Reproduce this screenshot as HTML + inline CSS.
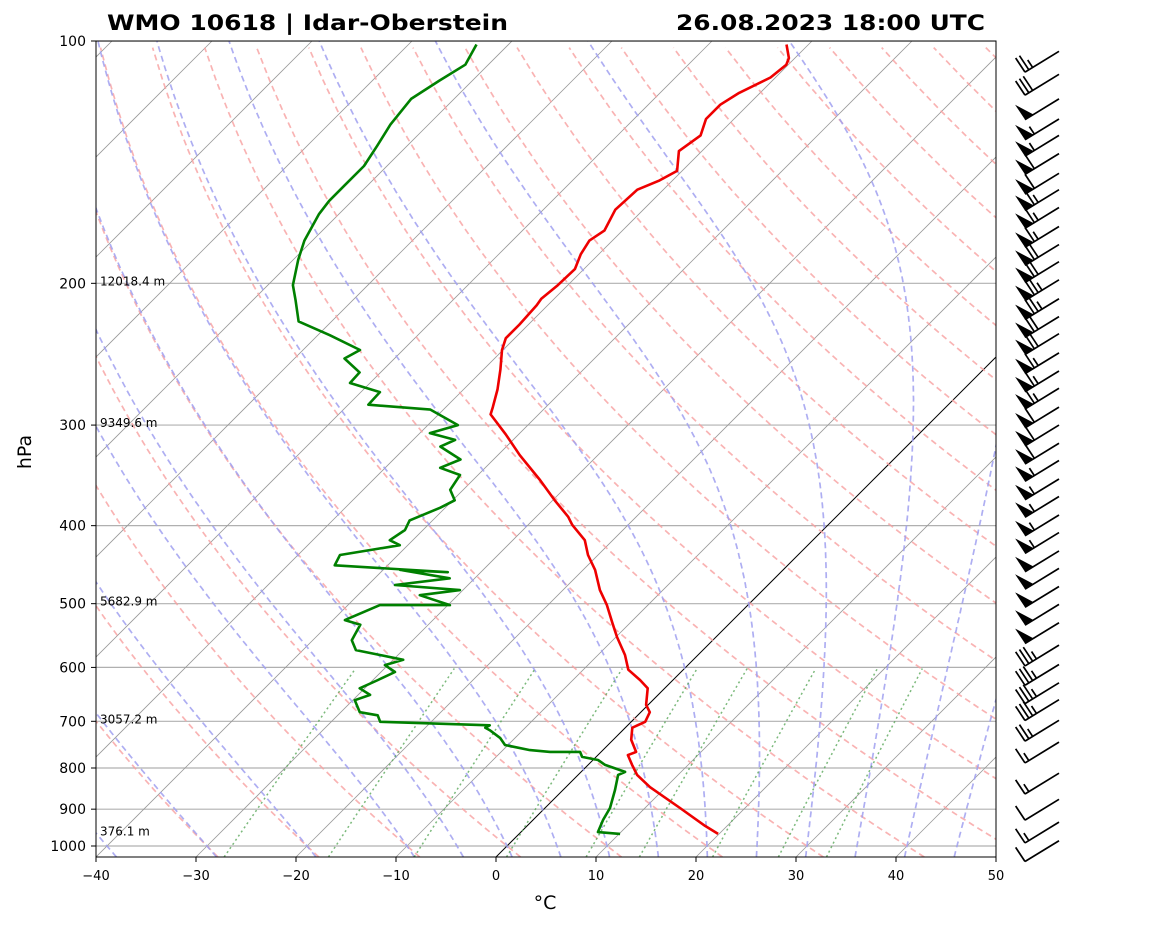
<!DOCTYPE html>
<html><head><meta charset="utf-8"><style>
body{margin:0;background:#fff;}
svg{display:block;font-family:"DejaVu Sans","Liberation Sans",sans-serif;}
</style></head><body>
<svg id="chart" width="1160" height="925" viewBox="0 0 1160 925" xmlns="http://www.w3.org/2000/svg">
<defs><clipPath id="plotclip"><rect x="96" y="41" width="900" height="816"/></clipPath></defs>
<rect x="0" y="0" width="1160" height="925" fill="#fff"/>
<g id="grid" clip-path="url(#plotclip)"></g>
<g id="data" clip-path="url(#plotclip)"></g>
<rect x="96" y="41" width="900" height="816" fill="none" stroke="#000" stroke-width="1"/>
<g id="axes"></g>
<g id="barbs"></g>
<text x="107" y="30" font-size="21" font-weight="bold" textLength="401" lengthAdjust="spacingAndGlyphs">WMO 10618 | Idar-Oberstein</text>
<text x="676" y="30" font-size="21" font-weight="bold" textLength="309" lengthAdjust="spacingAndGlyphs">26.08.2023 18:00 UTC</text>
<text x="545" y="909" font-size="19" text-anchor="middle">°C</text>
<text x="31" y="452" font-size="19" text-anchor="middle" transform="rotate(-90 31 452)">hPa</text>
</svg>
<script>
const tempP=[966,944,897,845,816,793,771,764,738,713,701,682,668,637,622,604,579,550,528,502,481,454,435,417,399,390,372,351,327,308,291,285,271,256,242,234,225,213,209,201,192,184,177,172,162,153,149,145,137,131,125,120,116,111,107,105,101];
const tempT=[19.9,17.8,13.5,8.4,5.9,4.4,3.0,3.5,1.8,0.7,1.4,0.9,-0.2,-1.7,-3.3,-5.5,-7.3,-9.9,-11.8,-14.1,-16.3,-18.8,-21,-22.8,-25.6,-26.8,-29.8,-33.3,-37.8,-41.3,-44.8,-45.3,-46.6,-48.3,-50.1,-50.9,-50.9,-51.1,-51.3,-51,-50.9,-51.8,-52.3,-51.8,-52.8,-52.6,-51.3,-50.5,-52.3,-51.7,-52.8,-52.8,-52.1,-50.5,-50.2,-50.6,-52.2];
const dewP=[966,961,928,897,852,816,809,793,782,775,764,764,760,749,734,718,713,708,701,688,682,659,649,637,622,608,596,587,579,571,555,531,524,502,502,488,481,474,465,454,457,448,435,427,423,417,405,394,380,372,361,346,339,331,319,313,307,300,287,283,273,266,258,248,242,232,223,210,201,187,177,164,158,151,143,135,127,118,112,107,101];
const dewT=[10.1,7.7,7.0,6.5,5.2,4.0,4.4,1.7,0.5,-1.4,-2.1,-5.1,-7.3,-10.3,-11.5,-13.3,-14,-13.8,-25.1,-26,-28.1,-29.8,-28.8,-30.5,-29.5,-28.6,-30.3,-29,-31.8,-34.7,-36.1,-36.8,-38.8,-36.8,-29.8,-33.8,-30.3,-37.3,-32.5,-38.3,-33.3,-45.3,-45.8,-42.5,-40.8,-42.3,-41.8,-42.3,-40.5,-39.8,-41.3,-41.8,-44.5,-43.3,-46.6,-45.8,-49,-47,-51.3,-58,-58.1,-62,-62.1,-65,-64.3,-68.8,-73.3,-75.7,-77.5,-79.5,-80.8,-82,-82.3,-82.3,-82.3,-83,-83.8,-84.3,-83.3,-82.3,-83.2];
const xTicks=[-40,-30,-20,-10,0,10,20,30,40,50];
const yTicks=[100,200,300,400,500,600,700,800,900,1000];
const heightP=[200,300,500,700,965];
const heightLabels=["12018.4 m","9349.6 m","5682.9 m","3057.2 m","376.1 m"];
const dryT0=[-30,-20,-10,0,10,20,30,40,50,60,70,80,90,100,110,120,130,140,150,160,170,180,190,200];
const moistT0=[-50,-40,-30,-20,-10,-5,0,5,10,15,20,25,30,35,40,45];
const mixW=[0.0004,0.001,0.002,0.004,0.007,0.01,0.016,0.024,0.032];
const barbP=[103,110,118,125,131,138,146,153,161,170,179,188,198,209,220,231,244,257,270,285,300,316,332,350,368,388,408,430,452,476,501,528,563,595,627,658,698,743,812,875,934,985];
const barbS=[25,30,50,55,55,60,60,65,65,65,70,70,75,75,70,70,65,65,65,60,60,60,55,55,55,55,55,50,50,50,50,50,35,35,35,35,25,15,15,10,15,10];

const NS="http://www.w3.org/2000/svg";
const PB=1031.9;
function yOf(p){return 41+805*Math.log10(p/100);}
function xOf(T,p){return 96+(T+40)*10+(857-yOf(p));}
function mk(tag,attrs,parent){const e=document.createElementNS(NS,tag);for(const k in attrs)e.setAttribute(k,attrs[k]);parent.appendChild(e);return e;}
function pathFrom(ps,ts){let d="";for(let i=0;i<ps.length;i++){d+=(i?"L":"M")+xOf(ts[i],ps[i]).toFixed(1)+","+yOf(ps[i]).toFixed(1);}return d;}
const grid=document.getElementById('grid'),data=document.getElementById('data'),axes=document.getElementById('axes'),barbs=document.getElementById('barbs');

for(const p of yTicks){const l=mk('line',{x1:96,x2:996,y1:yOf(p),y2:yOf(p),stroke:'#b0b0b0','stroke-width':1.2},grid);

}
for(let T=-130;T<=50;T+=10){const l=mk('line',{x1:xOf(T,PB),y1:yOf(PB),x2:xOf(T,100),y2:yOf(100),stroke:T===0?'#000':'#999','stroke-width':T===0?1:0.8},grid);

}
for(const t0 of dryT0){const ps=[],ts=[];for(let p=PB;p>=99;p-=10){ps.push(p);ts.push((t0+273.15)*Math.pow(p/1000,0.2857)-273.15);}
const e=mk('path',{d:pathFrom(ps,ts),fill:'none',stroke:'#f7a0a0','stroke-opacity':0.8,'stroke-width':1.7,'stroke-dasharray':'6,4'},grid);

}
function es(Tk){const t=Tk-273.15;return 6.112*Math.exp(17.67*t/(t+243.5));}
function dTdp(T,p){const e=es(T);const rs=0.622*e/(p-e);const Rd=287.04,cp=1005.7,Lv=2.501e6;return (Rd*T+Lv*rs)/(cp+Lv*Lv*rs*0.622/(Rd*T*T))/p;}
for(const t0 of moistT0){const up=[],ut=[];let T=t0+273.15,p=1000;up.push(p);ut.push(T-273.15);
while(p>100){const h=-2;const k1=dTdp(T,p);const k2=dTdp(T+h*k1/2,p+h/2);T+=h*k2;p+=h;up.push(p);ut.push(T-273.15);}
T=t0+273.15;p=1000;const dp=[],dt=[];while(p<PB){const h=2;const k1=dTdp(T,p);const k2=dTdp(T+h*k1/2,p+h/2);T+=h*k2;p+=h;dp.push(p);dt.push(T-273.15);}
const ps=dp.reverse().concat(up),ts=dt.reverse().concat(ut);
const e=mk('path',{d:pathFrom(ps,ts),fill:'none',stroke:'#a0a0f0','stroke-opacity':0.85,'stroke-width':1.7,'stroke-dasharray':'6,4'},grid);

}
for(const w of mixW){const ps=[],ts=[];for(let p=PB;p>=600;p-=10){const e=w*p/(0.622+w);const l=Math.log(e/6.112);ps.push(p);ts.push(243.5*l/(17.67-l));}
const e=mk('path',{d:pathFrom(ps,ts),fill:'none',stroke:'#5aa85a','stroke-opacity':0.8,'stroke-width':1.5,'stroke-dasharray':'2,3'},grid);

}
const tl=mk('path',{d:pathFrom(tempP,tempT),fill:'none',stroke:'#ee0000','stroke-width':2.6,'stroke-linejoin':'round'},data);


const dl=mk('path',{d:pathFrom(dewP,dewT),fill:'none',stroke:'#008000','stroke-width':2.6,'stroke-linejoin':'round'},data);


heightP.forEach((p,i)=>{const t=mk('text',{x:100,y:yOf(p)+2,'font-size':12},axes);t.textContent=heightLabels[i];

});
for(const T of xTicks){const x=96+(T+40)*10;mk('line',{x1:x,x2:x,y1:857,y2:862,stroke:'#000'},axes);
const t=mk('text',{x:x,y:880,'font-size':13,'text-anchor':'middle'},axes);t.textContent=(T<0?'\u2212'+(-T):T);

}
for(const p of yTicks){const y=yOf(p);mk('line',{x1:91,x2:96,y1:y,y2:y,stroke:'#000'},axes);
const t=mk('text',{x:86,y:y+5,'font-size':14,'text-anchor':'end'},axes);t.textContent=p;

}
const d=[-0.85,0.52],f=[-0.55,-0.83],L=40;
barbP.forEach((p,i)=>{const s=barbS[i];const sx=1059,sy=yOf(p);const ex=sx+d[0]*L,ey=sy+d[1]*L;
const g=mk('g',{},barbs);


mk('line',{x1:sx,y1:sy,x2:ex,y2:ey,stroke:'#000','stroke-width':1.7},g);
let flags=Math.floor(s/50),full=Math.floor((s%50)/10),half=(s%10)>=5;let pos=0;
for(let k=0;k<flags;k++){const ax=ex-d[0]*pos,ay=ey-d[1]*pos,bx=ex-d[0]*(pos+10),by=ey-d[1]*(pos+10);
mk('polygon',{points:`${ax},${ay} ${ax+f[0]*18},${ay+f[1]*18} ${bx},${by}`,fill:'#000'},g);pos+=11;}
for(let k=0;k<full;k++){const ax=ex-d[0]*pos,ay=ey-d[1]*pos;mk('line',{x1:ax,y1:ay,x2:ax+f[0]*17,y2:ay+f[1]*17,stroke:'#000','stroke-width':1.7},g);pos+=4.5;}
if(half){if(pos===0)pos=4.5;const ax=ex-d[0]*pos,ay=ey-d[1]*pos;mk('line',{x1:ax,y1:ay,x2:ax+f[0]*9,y2:ay+f[1]*9,stroke:'#000','stroke-width':1.7},g);}
});
</script>
</body></html>
